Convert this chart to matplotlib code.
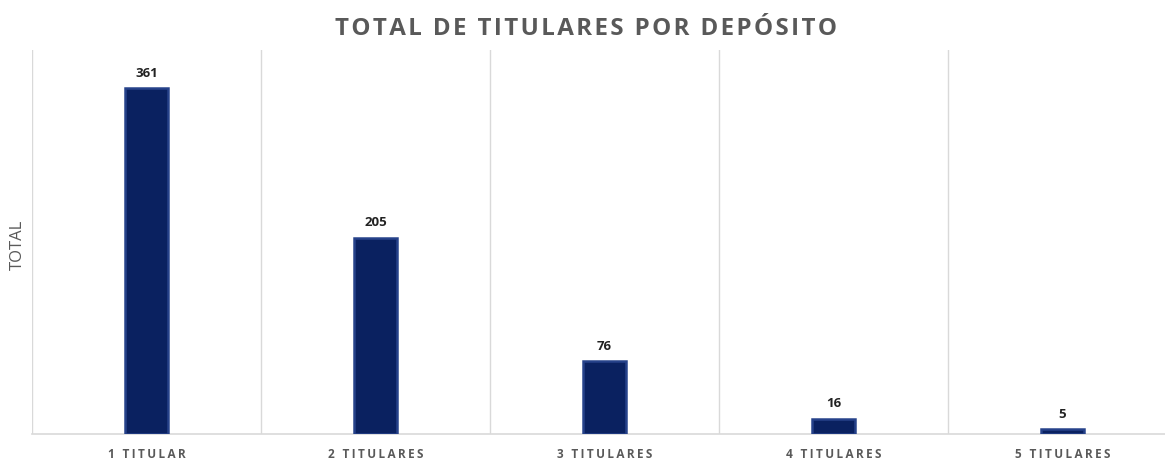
import matplotlib.pyplot as plt

# Depositos agrupados por numero de titulares
categorias = ["1 TITULAR", "2 TITULARES", "3 TITULARES", "4 TITULARES", "5 TITULARES"]
totales = [361, 205, 76, 16, 5]
titulo = "TOTAL DE TITULARES POR DEPÓSITO"

BAR_COLOR = "#0a2160"
EDGE_COLOR = "#26428a"
GRID_COLOR = "#d9d9d9"
TEXT_GRAY = "#595959"

plt.rcParams["font.family"] = ["Open Sans", "DejaVu Sans"]


def espaciado(texto, sep="\u2009"):
    # separa todas las letras para imitar el tracking amplio
    return sep.join(texto)


fig = plt.figure(figsize=(11.65, 4.59), dpi=100)
ax = fig.add_axes([32 / 1165, 25 / 459, 1145 / 1165, 384 / 459])

x = list(range(len(categorias)))
ax.bar(x, totales, width=0.19, color=BAR_COLOR, edgecolor=EDGE_COLOR, linewidth=1.8, zorder=3)

for xi, v in zip(x, totales):
    ax.text(xi, v + 9, str(v), ha="center", va="bottom", fontsize=9.5,
            fontweight="bold", color="#222222")

ax.set_xlim(-0.5, len(categorias) - 0.5)
ax.set_ylim(0, 401)

# separadores verticales entre categorias
for b in range(len(categorias)):
    ax.axvline(b - 0.5, color=GRID_COLOR, linewidth=1, zorder=1)

for side in ["top", "right", "left"]:
    ax.spines[side].set_visible(False)
ax.spines["bottom"].set_color(GRID_COLOR)
ax.spines["bottom"].set_linewidth(1.2)

ax.set_yticks([])
ax.set_xticks(x)
ax.set_xticklabels([espaciado(c) for c in categorias], fontsize=8.5,
                   fontweight="bold", color=TEXT_GRAY)
ax.tick_params(axis="x", length=0, pad=10)

fig.text(18 / 1165, 1 - 245 / 459, "TOTAL", rotation=90, ha="center", va="center",
         fontsize=12, color=TEXT_GRAY)
fig.text(586 / 1165, 1 - 29 / 459, espaciado(titulo, "\u200a"), ha="center",
         va="center", fontsize=17.4, fontweight="bold", color=TEXT_GRAY)

fig.savefig("out.png", dpi=100)
